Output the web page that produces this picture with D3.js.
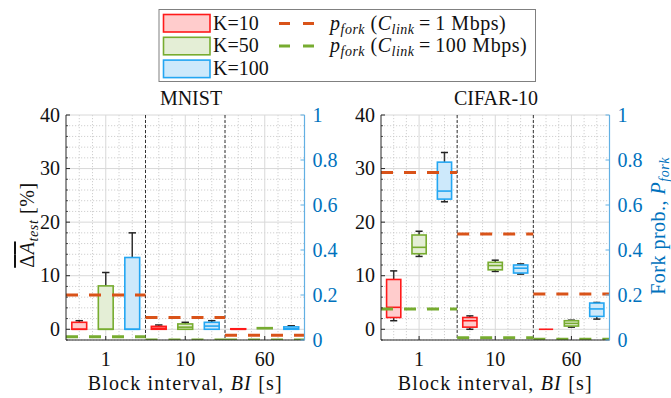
<!DOCTYPE html>
<html>
<head>
<meta charset="utf-8">
<script src="https://cdn.jsdelivr.net/npm/d3@7.9.0/dist/d3.min.js"></script>
<style>
  body { margin: 0; background: #fff; }
  svg text { font-family: "Liberation Serif", "Times New Roman", serif; }
</style>
</head>
<body>
<svg id="chart" width="671" height="398"></svg>
<script>
const blockIntervals = ['1', '10', '60'];
const kLabels = ['K=10', 'K=50', 'K=100'];
const forkLabels = ['1 Mbps', '100 Mbps'];

// [lower whisker, q1, median, q3, upper whisker], ordered BI=1 (K=10,50,100), BI=10 ..., BI=60 ...
const mnistStats = [
  [0, 0, 0, 1.3, 1.6], [0, 0, 0, 8.1, 10.6], [0, 0, 0, 13.4, 18.0],
  [0, 0, 0.2, 0.55, 0.8], [0, 0, 0.4, 1.0, 1.3], [0, 0, 0.6, 1.3, 1.6],
  [0, 0, 0, 0.1, 0.1], [0.1, 0.1, 0.2, 0.3, 0.3], [0, 0, 0.1, 0.45, 0.65],
];
const cifarStats = [
  [1.6, 2.2, 4.1, 9.3, 10.9], [13.6, 14.1, 15.3, 17.6, 18.3], [23.8, 24.3, 25.8, 31.2, 33.0],
  [0, 0.4, 1.6, 2.2, 2.5], [10.8, 11.1, 11.9, 12.5, 12.9], [10.3, 10.5, 11.4, 12.0, 12.2],
  [0, 0, 0, 0, 0], [0.4, 0.6, 1.1, 1.6, 1.7], [1.9, 2.4, 3.8, 4.9, 5.0],
];
// fork probability per block interval
const mnistFork1 = [0.2, 0.1, 0.021];
const mnistFork100 = [0.014, 0, 0];
const cifarFork1 = [0.745, 0.471, 0.204];
const cifarFork100 = [0.138, 0.01, 0.003];

const accTicks = [0, 10, 20, 30, 40];
const forkTicks = [0, 0.2, 0.4, 0.6, 0.8, 1];

const edgeColors = ['#ff1a1a', '#77ac30', '#23a6f2'];
const fillColors = ['#ffcccc', '#e4eed6', '#cde9fb'];
const forkColors = ['#d95319', '#77ac30'];
const blue = '#0072bd';

const svg = d3.select('#chart');
const plotTop = 115, plotBottom = 340;

function drawPanel(opts) {
  const { left, right, title, titleX, stats, fork1, fork100, id } = opts;
  const x = d3.scaleLinear().domain([0.5, 9.5]).range([left, right]);
  const y = d3.scaleLinear().domain([-2, 40]).range([plotBottom, plotTop]);
  const yR = d3.scaleLinear().domain([0, 1]).range([plotBottom, plotTop]);

  const g = svg.append('g');

  svg.append('clipPath').attr('id', 'clip' + id)
    .append('rect').attr('x', left).attr('y', plotTop)
    .attr('width', right - left).attr('height', plotBottom - plotTop);

  // grid
  const grid = g.append('g');
  grid.selectAll('.vminor')
    .data(d3.range(1, 9.5, 0.5).filter(d => ![2, 5, 8].includes(d)))
    .join('line')
    .attr('x1', d => x(d)).attr('x2', d => x(d))
    .attr('y1', plotTop).attr('y2', plotBottom)
    .attr('stroke', '#c4c4c4').attr('stroke-width', 0.8)
    .attr('stroke-dasharray', '1.2,1.8');
  grid.selectAll('.hminor')
    .data(d3.range(-2, 40, 2).filter(d => d % 10 !== 0))
    .join('line')
    .attr('x1', left).attr('x2', right)
    .attr('y1', d => y(d)).attr('y2', d => y(d))
    .attr('stroke', '#c4c4c4').attr('stroke-width', 0.8)
    .attr('stroke-dasharray', '1.2,1.8');
  grid.selectAll('.vmajor')
    .data([2, 5, 8])
    .join('line')
    .attr('x1', d => x(d)).attr('x2', d => x(d))
    .attr('y1', plotTop).attr('y2', plotBottom)
    .attr('stroke', '#d8d8d8').attr('stroke-width', 1);
  grid.selectAll('.hmajor')
    .data(accTicks)
    .join('line')
    .attr('x1', left).attr('x2', right)
    .attr('y1', d => y(d)).attr('y2', d => y(d))
    .attr('stroke', '#d8d8d8').attr('stroke-width', 1);

  // group separators
  g.selectAll('.sep')
    .data([3.5, 6.5])
    .join('line')
    .attr('x1', d => x(d)).attr('x2', d => x(d))
    .attr('y1', plotTop).attr('y2', plotBottom)
    .attr('stroke', '#333').attr('stroke-width', 1)
    .attr('stroke-dasharray', '3,2');

  // boxes
  const boxes = g.append('g');
  stats.forEach((s, i) => {
    const pos = i + 1;
    const k = i % 3;
    const hw = 0.28, cw = 0.14;
    const b = boxes.append('g');
    if (s[0] < s[1]) {
      b.append('line').attr('x1', x(pos)).attr('x2', x(pos))
        .attr('y1', y(s[0])).attr('y2', y(s[1]))
        .attr('stroke', '#333').attr('stroke-width', 1.5);
      b.append('line').attr('x1', x(pos - cw)).attr('x2', x(pos + cw))
        .attr('y1', y(s[0])).attr('y2', y(s[0]))
        .attr('stroke', '#222').attr('stroke-width', 1.5);
    }
    if (s[4] > s[3]) {
      b.append('line').attr('x1', x(pos)).attr('x2', x(pos))
        .attr('y1', y(s[4])).attr('y2', y(s[3]))
        .attr('stroke', '#333').attr('stroke-width', 1.5);
      b.append('line').attr('x1', x(pos - cw)).attr('x2', x(pos + cw))
        .attr('y1', y(s[4])).attr('y2', y(s[4]))
        .attr('stroke', '#222').attr('stroke-width', 1.5);
    }
    b.append('rect')
      .attr('x', x(pos - hw)).attr('width', x(pos + hw) - x(pos - hw))
      .attr('y', y(s[3])).attr('height', y(s[1]) - y(s[3]))
      .attr('fill', fillColors[k]).attr('stroke', edgeColors[k]).attr('stroke-width', 1.6);
    b.append('line').attr('x1', x(pos - hw)).attr('x2', x(pos + hw))
      .attr('y1', y(s[2])).attr('y2', y(s[2]))
      .attr('stroke', edgeColors[k]).attr('stroke-width', 1.6);
  });

  // fork probability lines (right axis)
  const forkG = g.append('g').attr('clip-path', `url(#clip${id})`);
  [fork1, fork100].forEach((vals, j) => {
    forkG.selectAll('.f' + j)
      .data(vals)
      .join('line')
      .attr('class', 'f' + j)
      .attr('x1', (d, i) => x(i * 3 + 0.5)).attr('x2', (d, i) => x(i * 3 + 3.5))
      .attr('y1', d => yR(d)).attr('y2', d => yR(d))
      .attr('stroke', forkColors[j]).attr('stroke-width', 3)
      .attr('stroke-dasharray', '12,11');
  });

  // left axis
  const ax = g.append('g').attr('fill', 'none');
  ax.append('line').attr('x1', left).attr('x2', left).attr('y1', plotTop).attr('y2', plotBottom)
    .attr('stroke', '#262626').attr('stroke-width', 1);
  ax.append('line').attr('x1', left).attr('x2', right).attr('y1', plotBottom).attr('y2', plotBottom)
    .attr('stroke', '#262626').attr('stroke-width', 1);
  ax.selectAll('.lt').data(accTicks).join('line')
    .attr('class', 'lt')
    .attr('x1', left).attr('x2', left + 4)
    .attr('y1', d => y(d)).attr('y2', d => y(d))
    .attr('stroke', '#262626');
  ax.selectAll('.lmt').data(d3.range(-2, 40, 2).filter(d => d % 10 !== 0)).join('line')
    .attr('class', 'lmt')
    .attr('x1', left).attr('x2', left + 2)
    .attr('y1', d => y(d)).attr('y2', d => y(d))
    .attr('stroke', '#262626').attr('stroke-width', 0.8);
  ax.selectAll('.bt').data([2, 5, 8]).join('line')
    .attr('class', 'bt')
    .attr('x1', d => x(d)).attr('x2', d => x(d))
    .attr('y1', plotBottom).attr('y2', plotBottom - 4)
    .attr('stroke', '#262626');

  g.selectAll('.ltl').data(accTicks).join('text')
    .attr('class', 'ltl')
    .attr('x', left - 6).attr('y', d => y(d)).attr('dy', '0.33em')
    .attr('text-anchor', 'end').attr('font-size', 20).attr('fill', '#111')
    .text(d => d);

  // right axis
  ax.append('line').attr('x1', right).attr('x2', right).attr('y1', plotTop).attr('y2', plotBottom)
    .attr('stroke', '#62b0e3').attr('stroke-width', 1.2);
  ax.selectAll('.rt').data(forkTicks).join('line')
    .attr('class', 'rt')
    .attr('x1', right).attr('x2', right - 4)
    .attr('y1', d => yR(d)).attr('y2', d => yR(d))
    .attr('stroke', '#62b0e3');
  g.selectAll('.rtl').data(forkTicks).join('text')
    .attr('class', 'rtl')
    .attr('x', right + 8).attr('y', d => yR(d)).attr('dy', '0.33em')
    .attr('font-size', 20).attr('fill', blue)
    .text(d => d3.format('~g')(d));

  // x tick labels
  g.selectAll('.xtl').data(blockIntervals).join('text')
    .attr('class', 'xtl')
    .attr('x', (d, i) => x(i * 3 + 2)).attr('y', 366)
    .attr('text-anchor', 'middle').attr('font-size', 20).attr('fill', '#111')
    .text(d => d);

  // title
  g.append('text').attr('x', titleX).attr('y', 105)
    .attr('text-anchor', 'middle').attr('font-size', 20).attr('fill', '#111')
    .text(title);

  // x label
  const xl = g.append('text').attr('x', (left + right) / 2).attr('y', 390)
    .attr('text-anchor', 'middle').attr('font-size', 20).attr('fill', '#111')
    .attr('letter-spacing', 1.2);
  xl.append('tspan').text('Block interval, ');
  xl.append('tspan').attr('font-style', 'italic').text('BI');
  xl.append('tspan').text(' [s]');
}

drawPanel({ id: 'm', left: 66, right: 304.5, title: 'MNIST', titleX: 191,
  stats: mnistStats, fork1: mnistFork1, fork100: mnistFork100 });
drawPanel({ id: 'c', left: 381, right: 609.5, title: 'CIFAR-10', titleX: 496,
  stats: cifarStats, fork1: cifarFork1, fork100: cifarFork100 });

// left y label
const yl = svg.append('text')
  .attr('transform', 'translate(34,225) rotate(-90)')
  .attr('text-anchor', 'middle').attr('font-size', 20).attr('fill', '#111')
  .attr('letter-spacing', 0.6);
yl.append('tspan').style('text-decoration', 'overline').text('\u0394');
yl.append('tspan').style('text-decoration', 'overline').attr('font-style', 'italic').text('A');
yl.append('tspan').attr('font-style', 'italic').attr('font-size', 14).attr('dy', 4).text('test');
yl.append('tspan').attr('dy', -4).text(' [%]');

// right y label
const yr = svg.append('text')
  .attr('transform', 'translate(665,226) rotate(-90)')
  .attr('text-anchor', 'middle').attr('font-size', 20).attr('fill', blue)
  .attr('letter-spacing', 0.5);
yr.append('tspan').text('Fork prob., ');
yr.append('tspan').attr('font-style', 'italic').text('P');
yr.append('tspan').attr('font-style', 'italic').attr('font-size', 14).attr('dy', 4).text('fork');

// legend
const lg = svg.append('g');
lg.append('rect').attr('x', 159).attr('y', 9.5).attr('width', 376.5).attr('height', 72)
  .attr('fill', '#fff').attr('stroke', '#808080').attr('stroke-width', 1);
kLabels.forEach((lab, i) => {
  const yy = 14.5 + i * 22.8;
  lg.append('rect').attr('x', 163.5).attr('y', yy).attr('width', 46.5).attr('height', 17.5)
    .attr('fill', fillColors[i]).attr('stroke', edgeColors[i]).attr('stroke-width', 1.6);
  lg.append('text').attr('x', 213).attr('y', yy + 15).attr('font-size', 20).attr('fill', '#111')
    .text(lab);
});
forkLabels.forEach((lab, i) => {
  const yy = 23.5 + i * 22.5;
  lg.append('line').attr('x1', 279).attr('x2', 318).attr('y1', yy).attr('y2', yy)
    .attr('stroke', forkColors[i]).attr('stroke-width', 3).attr('stroke-dasharray', '11,13');
  const t = lg.append('text').attr('x', 330).attr('y', yy + 6).attr('font-size', 20).attr('fill', '#111')
    .attr('letter-spacing', 0.5);
  t.append('tspan').attr('font-style', 'italic').text('p');
  t.append('tspan').attr('font-style', 'italic').attr('font-size', 14).attr('dy', 4).text('fork');
  t.append('tspan').attr('dy', -4).text(' (');
  t.append('tspan').attr('font-style', 'italic').text('C');
  t.append('tspan').attr('font-style', 'italic').attr('font-size', 14).attr('dy', 4).text('link');
  t.append('tspan').attr('dy', -4).text('\u2009=\u2009' + lab.replace(' ', '\u00a0') + ')');
});
</script>
</body>
</html>
